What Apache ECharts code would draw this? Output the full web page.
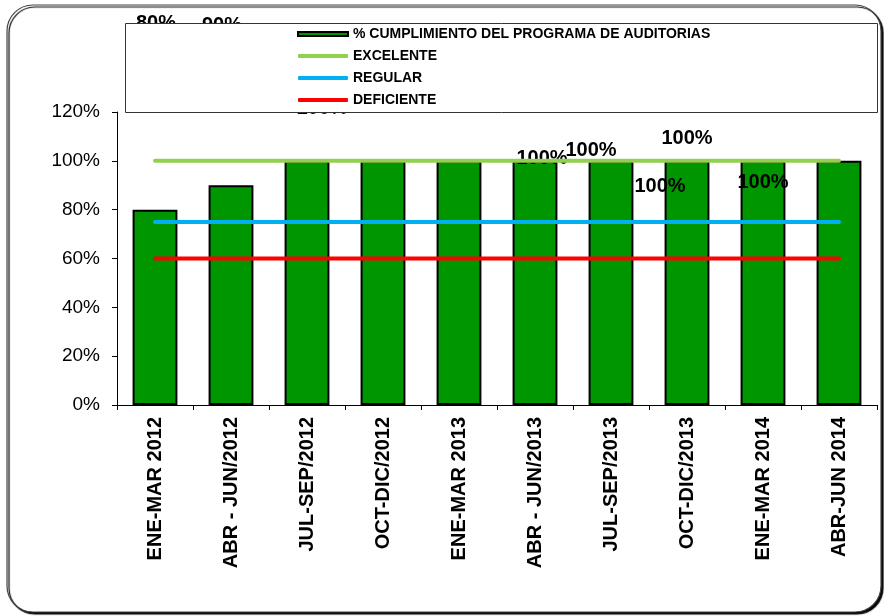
<!DOCTYPE html>
<html>
<head>
<meta charset="utf-8">
<script src="https://cdn.jsdelivr.net/npm/echarts@6/dist/echarts.min.js"></script>
<style>
  html, body { margin: 0; padding: 0; background: #fff; }
  #main { width: 884px; height: 616px; }
</style>
</head>
<body>
<div id="main"></div>
<script>
// datos
var periodos = ['ENE-MAR 2012', 'ABR - JUN/2012', 'JUL-SEP/2012', 'OCT-DIC/2012', 'ENE-MAR 2013',
                'ABR - JUN/2013', 'JUL-SEP/2013', 'OCT-DIC/2013', 'ENE-MAR 2014', 'ABR-JUN 2014']
var cumplimiento = [0.8, 0.9, 1, 1, 1, 1, 1, 1, 1, 1]
var excelente = [1, 1, 1, 1, 1, 1, 1, 1, 1, 1]
var regular = [0.75, 0.75, 0.75, 0.75, 0.75, 0.75, 0.75, 0.75, 0.75, 0.75]
var deficiente = [0.6, 0.6, 0.6, 0.6, 0.6, 0.6, 0.6, 0.6, 0.6, 0.6]

// etiquetas movidas a mano (como en el excel original)
var desplazaEtiqueta = [[1, -171], [-9, -145], [15, -37], [0, -80], [0, -80],
                        [7, 13], [-20, 5], [0, -7], [0, 37], [-179, 41]]

var fuente = 'Liberation Sans, Arial, sans-serif'
var myChart = echarts.init(document.getElementById('main'))

function pct(v){ return Math.round(v * 100) + '%' }

var option = {
  backgroundColor: '#fff',
  animation: false,
  graphic: [
    { // marco exterior
      type: 'rect', z: 0,
      shape: { x: 7, y: 5, width: 874, height: 607, r: 26 },
      style: { fill: '#fff', stroke: '#444', lineWidth: 1.2,
               shadowColor: '#000', shadowOffsetX: 2, shadowOffsetY: 2, shadowBlur: 1 }
    },
    { // caja de la leyenda
      type: 'rect', z: 3,
      shape: { x: 125.5, y: 23.5, width: 752, height: 89 },
      style: { fill: '#fff', stroke: '#333', lineWidth: 1 }
    }
  ],
  legend: {
    z: 5,
    orient: 'vertical',
    left: 297, top: 26,
    padding: 0,
    itemWidth: 50, itemHeight: 4,
    itemGap: 6,
    textStyle: { fontFamily: fuente, fontWeight: 'bold', fontSize: 14, lineHeight: 16, color: '#000' },
    data: [
      { name: '% CUMPLIMIENTO DEL PROGRAMA DE AUDITORIAS', icon: 'rect' },
      { name: 'EXCELENTE', icon: 'roundRect' },
      { name: 'REGULAR', icon: 'roundRect' },
      { name: 'DEFICIENTE', icon: 'roundRect' }
    ]
  },
  grid: { left: 117, right: 7, top: 112, bottom: 211 },
  xAxis: {
    type: 'category',
    data: periodos,
    axisLine: { lineStyle: { color: '#000', width: 1 } },
    axisTick: { show: true, length: 5, lineStyle: { color: '#000' } },
    axisLabel: { interval: 0, rotate: 90, margin: 12, color: '#000',
                 fontFamily: fuente, fontWeight: 'bold', fontSize: 20 }
  },
  yAxis: {
    type: 'value', min: 0, max: 1.2, interval: 0.2,
    splitLine: { show: false },
    axisLine: { show: true, lineStyle: { color: '#000', width: 1 } },
    axisTick: { show: true, length: 5, lineStyle: { color: '#000' } },
    axisLabel: { margin: 17, color: '#000', fontFamily: fuente, fontSize: 19, formatter: pct }
  },
  series: [
    {
      name: '% CUMPLIMIENTO DEL PROGRAMA DE AUDITORIAS',
      type: 'bar',
      barCategoryGap: '41%',
      itemStyle: { color: '#009600', borderColor: '#000', borderWidth: 2 },
      label: { show: true, position: 'top', distance: 5, color: '#000',
               fontFamily: fuente, fontWeight: 'bold', fontSize: 20,
               formatter: function(p){ return pct(p.value) } },
      data: cumplimiento.map(function(v, i){
        return { value: v, label: { offset: desplazaEtiqueta[i] } }
      })
    },
    {
      name: 'EXCELENTE', type: 'line', symbol: 'none', z: 2,
      lineStyle: { color: '#92D050', width: 4, cap: 'round' },
      itemStyle: { color: '#92D050' },
      data: excelente
    },
    {
      name: 'REGULAR', type: 'line', symbol: 'none', z: 2,
      lineStyle: { color: '#00B0F0', width: 4, cap: 'round' },
      itemStyle: { color: '#00B0F0' },
      data: regular
    },
    {
      name: 'DEFICIENTE', type: 'line', symbol: 'none', z: 2,
      lineStyle: { color: '#FF0000', width: 4, cap: 'round' },
      itemStyle: { color: '#FF0000' },
      data: deficiente
    }
  ]
}
myChart.setOption(option)
</script>
</body>
</html>
